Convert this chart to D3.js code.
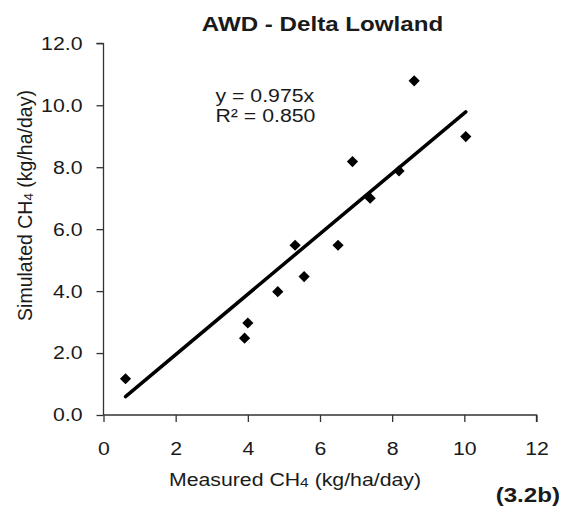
<!DOCTYPE html>
<html>
<head>
<meta charset="utf-8">
<script src="https://cdn.jsdelivr.net/npm/d3@7"></script>
<style>
  html, body { margin: 0; padding: 0; background: #fff; }
  svg { display: block; font-family: "Liberation Sans", Arial, sans-serif; }
</style>
</head>
<body>
<svg id="chart" width="565" height="509"></svg>
<script>
// Measured vs simulated CH4 emissions, AWD treatment, Delta Lowland
const measured  = [0.61, 3.91, 4.00, 4.83, 5.31, 5.56, 6.50, 6.90, 7.39, 8.19, 8.61, 10.04];
const simulated = [1.17, 2.48, 2.97, 3.98, 5.48, 4.47, 5.48, 8.18, 7.00, 7.88, 10.79, 8.99];
const slope = 0.975;
const rSquared = 0.850;
const xTicks = [0, 2, 4, 6, 8, 10, 12];
const yTicks = [0, 2, 4, 6, 8, 10, 12];

const points = measured.map((m, i) => ({ x: m, y: simulated[i] }));

const svg = d3.select("#chart");
const textColor = "#1a1a1a";
const axisColor = "#333";
const wide = 1.15;          // horizontal stretch of the lettering
const fs = 18.5;            // base font size

const x = d3.scaleLinear().domain([0, 12]).range([103.5, 536.5]);
const y = d3.scaleLinear().domain([0, 12]).range([415, 43.3]);

// horizontally stretched text placed at (px, py)
function label(px, py, anchor, size, weight) {
  return svg.append("text")
    .attr("transform", `translate(${px},${py}) scale(${wide},1)`)
    .attr("text-anchor", anchor)
    .attr("fill", textColor)
    .style("font-size", size + "px")
    .style("font-weight", weight || "normal");
}

// y axis
const yAxis = svg.append("g")
  .attr("transform", `translate(${x(0)},0)`)
  .call(d3.axisLeft(y).tickValues(yTicks).tickFormat(d3.format(".1f")).tickSize(7).tickPadding(11));
// x axis
const xAxis = svg.append("g")
  .attr("transform", `translate(0,${y(0)})`)
  .call(d3.axisBottom(x).tickValues(xTicks).tickFormat(d3.format("d")).tickSize(7).tickPadding(20));

[xAxis, yAxis].forEach(g => {
  g.select(".domain").attr("stroke", axisColor).attr("stroke-width", 1.3);
  g.selectAll(".tick line").attr("stroke", axisColor).attr("stroke-width", 1.3);
  g.selectAll(".tick text")
    .attr("fill", textColor)
    .style("font-size", fs + "px")
    .attr("transform", `scale(${wide},1)`);
});
xAxis.selectAll(".tick text").attr("x", 0);
yAxis.selectAll(".tick text").attr("x", -21 / wide);
// x axis line starts exactly at the y axis
xAxis.select(".domain").attr("d", `M${x(0)},0H${x(12)}V7`);
yAxis.select(".domain").attr("d", `M0,${y(12)}H-7M0,${y(12)}V${y(0)}`);

// regression line through the origin, drawn over the data range
const xMin = d3.min(measured), xMax = d3.max(measured);
svg.append("line")
  .attr("x1", x(xMin)).attr("y1", y(slope * xMin))
  .attr("x2", x(xMax)).attr("y2", y(slope * xMax))
  .attr("stroke", "#000").attr("stroke-width", 3.5).attr("stroke-linecap", "round");

// diamond markers
const r = 5.6;
svg.append("g").selectAll("path")
  .data(points)
  .join("path")
  .attr("transform", d => `translate(${x(d.x)},${y(d.y)})`)
  .attr("d", `M0,${-r}L${r},0L0,${r}L${-r},0Z`)
  .attr("fill", "#000");

// title
label(322.5, 31, "middle", 21, "bold").text("AWD - Delta Lowland");

// equation
label(215.5, 102, "start", fs).text(`y = ${slope.toFixed(3)}x`);
label(215.5, 122, "start", fs).text(`R² = ${rSquared.toFixed(3)}`);

// axis titles with subscript 4
function ch4Label(sel, before, after) {
  sel.append("tspan").text(before);
  sel.append("tspan").style("font-size", "13.5px").attr("dy", 1).text("4");
  sel.append("tspan").attr("dy", -1).text(after);
}
ch4Label(label(295, 486, "middle", fs), "Measured CH", " (kg/ha/day)");

const yLabel = svg.append("text")
  .attr("transform", "translate(32,205.5) rotate(-90)")
  .attr("text-anchor", "middle")
  .attr("fill", textColor).style("font-size", "19.5px");
ch4Label(yLabel, "Simulated CH", " (kg/ha/day)");

// panel tag
label(560, 502, "end", 21, "bold").text("(3.2b)");
</script>
</body>
</html>
